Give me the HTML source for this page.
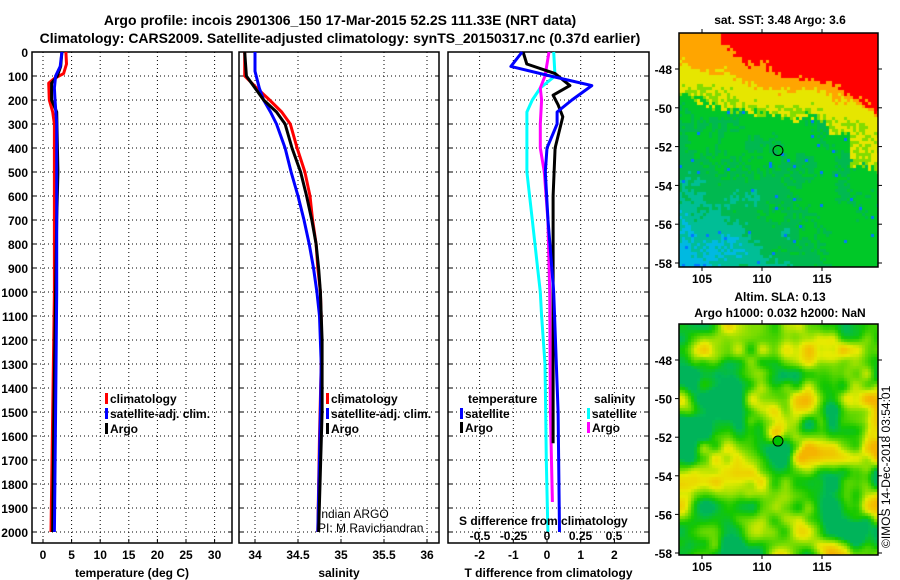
<!DOCTYPE html>
<html><head><meta charset="utf-8">
<style>
html,body{margin:0;padding:0;background:#fff;}
#wrap{position:relative;width:900px;height:580px;overflow:hidden;font-family:"Liberation Sans",sans-serif;}
svg text{font-family:"Liberation Sans",sans-serif;font-weight:bold;fill:#000;}
canvas{position:absolute;}
</style></head>
<body>
<div id="wrap">
<canvas id="sst" width="199" height="234" style="left:679px;top:33px;"></canvas>
<canvas id="sla" width="199" height="231" style="left:679px;top:324px;"></canvas>
<svg id="svg" width="900" height="580" style="position:absolute;left:0;top:0;"></svg>
</div>
<script>
// ---- data ----
const tClimDepth=[0,50,90,110,130,200,250,300,400,600,1000,1500,2000];
const tClimVal=[4.0,4.1,3.6,2.0,1.0,1.1,1.7,2.0,2.0,2.0,2.0,1.7,1.4];
const tSatDepth=[0,60,100,150,200,300,500,1000,1500,2000];
const tSatVal=[3.3,3.0,2.2,2.0,2.1,2.4,2.4,2.4,2.2,2.0];
const tArgoDepth=[0,60,100,130,200,250,500,700,1000,1500,2000];
const tArgoVal=[3.3,3.1,2.5,1.5,1.5,2.4,2.6,2.4,2.2,1.9,1.7];
const sClimDepth=[0,100,150,200,250,300,400,500,600,700,800,900,1000,1100,1300,1600,2000];
const sClimVal=[33.88,33.88,34.02,34.17,34.31,34.41,34.49,34.58,34.64,34.67,34.71,34.73,34.76,34.77,34.77,34.75,34.73];
const sSatDepth=[0,80,150,200,250,300,400,500,600,700,800,900,1000,1100,1300,1500,2000];
const sSatVal=[34.0,34.0,34.05,34.1,34.18,34.25,34.35,34.42,34.5,34.57,34.63,34.68,34.72,34.75,34.77,34.76,34.73];
const sArgoDepth=[0,100,150,200,250,300,400,500,600,700,800,900,1000,1200,1500,2000];
const sArgoVal=[33.88,33.9,34.0,34.1,34.25,34.35,34.43,34.53,34.6,34.66,34.71,34.74,34.76,34.78,34.78,34.74];
const dTSatDepth=[0,60,100,140,200,250,300,400,500,700,1000,1500,2000];
const dTSatVal=[-0.74,-1.07,0.1,1.33,0.74,0.3,0.3,0.0,-0.05,0.03,0.2,0.33,0.37];
const dTArgoDepth=[0,50,90,140,180,220,270,400,600,1000,1630];
const dTArgoVal=[-0.71,-0.6,0.24,0.68,0.18,0.33,0.47,0.24,0.18,0.18,0.18];
const dSArgoDepth=[0,100,150,200,300,400,500,700,1000,1500,1875];
const dSArgoVal=[0.015,-0.015,-0.05,-0.04,-0.05,-0.05,-0.02,0.007,0.02,0.025,0.04];
const dSSatDepth=[0,100,150,200,250,500,700,900,1000,1100,1300,1500,1700,2000];
const dSSatVal=[0.05,0.06,-0.05,-0.11,-0.15,-0.15,-0.11,-0.07,-0.05,-0.04,-0.015,-0.01,-0.005,0.007];
const depthTicks=[0,100,200,300,400,500,600,700,800,900,1000,1100,1200,1300,1400,1500,1600,1700,1800,1900,2000];
const tTicks=[0,5,10,15,20,25,30];
const sTicks=[34,34.5,35,35.5,36];
const sTickLabels=["34","34.5","35","35.5","36"];
const dTTicks=[-2,-1,0,1,2];
const dSTicks=[-0.5,-0.25,0,0.25,0.5];
const dSTickLabels=["-0.5","-0.25","0","0.25","0.5"];
const lonTicks=[105,110,115];
const latTicks=[-48,-50,-52,-54,-56,-58];
const argoLon=111.33, argoLat=-52.2;

// ---- axes ----
const Y=d=>52+d*0.24;
const xT=v=>43+v*5.72;
const xS=v=>255+(v-34)*86;
const xDT=v=>547+v*33.7;
const xDS=v=>547+v*134;
const mLon=v=>762+(v-110)*12;
const m1Lat=v=>69+(-48-v)*19.4;
const m2Lat=v=>360+(-48-v)*19.3;

const NS="http://www.w3.org/2000/svg";
const svg=document.getElementById('svg');
function mk(tag,at,parent){const e=document.createElementNS(NS,tag);for(const k in at)e.setAttribute(k,at[k]);(parent||svg).appendChild(e);return e;}
function txt(x,y,s,size,anchor,name){const t=mk('text',{x:x,y:y,'font-size':size,'text-anchor':anchor||'start'});t.textContent=s;


return t;}

txt(340,25,"Argo profile: incois 2901306_150 17-Mar-2015 52.2S 111.33E (NRT data)",14,'middle','title-line-1');
txt(340,43,"Climatology: CARS2009. Satellite-adjusted climatology: synTS_20150317.nc (0.37d earlier)",14,'middle','title-line-2');

const panels=[
 {x0:32,x1:232,ticks:tTicks,labels:tTicks.map(String),fx:xT,name:'temperature-panel',xl:'temperature (deg C)'},
 {x0:239,x1:439,ticks:sTicks,labels:sTickLabels,fx:xS,name:'salinity-panel',xl:'salinity'},
 {x0:448,x1:649,ticks:dTTicks,labels:dTTicks.map(String),fx:xDT,name:'difference-panel',xl:'T difference from climatology'}
];
const yBot=543;
panels.forEach((p,i)=>{
 const g=mk('g',{});
 
 
 depthTicks.forEach(d=>{ if(d>0) mk('line',{x1:p.x0,x2:p.x1,y1:Y(d),y2:Y(d),stroke:'#000','stroke-width':1,'stroke-dasharray':'1,3'},g);
   mk('line',{x1:p.x0,x2:p.x0+4,y1:Y(d),y2:Y(d),stroke:'#000'},g);
   mk('line',{x1:p.x1-4,x2:p.x1,y1:Y(d),y2:Y(d),stroke:'#000'},g);});
 p.ticks.forEach((t,j)=>{const x=p.fx(t);
   mk('line',{x1:x,x2:x,y1:52,y2:yBot,stroke:'#000','stroke-dasharray':'1,3'},g);
   mk('line',{x1:x,x2:x,y1:yBot-4,y2:yBot,stroke:'#000'},g);
   txt(x,559,p.labels[j],12,'middle','x-tick-label');});
 mk('rect',{x:p.x0,y:52,width:p.x1-p.x0,height:yBot-52,fill:'none',stroke:'#000','stroke-width':1.5},g);
 txt((p.x0+p.x1)/2,577,p.xl,12,'middle','x-axis-title');
});
depthTicks.forEach(d=>txt(28,Y(d)+5,String(d),12,'end','depth-tick-label'));

function line(depths,vals,fx,color,name){
 const pts=depths.map((d,i)=>fx(vals[i]).toFixed(1)+','+Y(d).toFixed(1)).join(' ');
 const l=mk('polyline',{points:pts,fill:'none',stroke:color,'stroke-width':3,'stroke-linejoin':'round'});
 
 
}
line(tClimDepth,tClimVal,xT,'#ff0000','temp-climatology-line');
line(tArgoDepth,tArgoVal,xT,'#000000','temp-argo-line');
line(tSatDepth,tSatVal,xT,'#0000ff','temp-satellite-line');
line(sClimDepth,sClimVal,xS,'#ff0000','sal-climatology-line');
line(sSatDepth,sSatVal,xS,'#0000ff','sal-satellite-line');
line(sArgoDepth,sArgoVal,xS,'#000000','sal-argo-line');
line(dSSatDepth,dSSatVal,xDS,'#00ffff','dsal-satellite-line');
line(dSArgoDepth,dSArgoVal,xDS,'#ff00ff','dsal-argo-line');
line(dTArgoDepth,dTArgoVal,xDT,'#000000','dtemp-argo-line');
line(dTSatDepth,dTSatVal,xDT,'#0000ff','dtemp-satellite-line');

txt(459,525,"S difference from climatology",12,'start','s-axis-title');
dSTicks.forEach((t,j)=>txt(xDS(t),540,dSTickLabels[j],12,'middle','s-tick-label'));

function legend(x,y,color,label,name){
 const r=mk('rect',{x:x,y:y-10,width:3,height:11,fill:color});
 
 
 txt(x+5,y,label,12,'start',name);
}
[[105,'climatology','#ff0000'],[105,'satellite-adj. clim.','#0000ff'],[105,'Argo','#000']].forEach((a,i)=>legend(a[0],403+i*15,a[2],a[1],'temp-legend-entry'));
[[326,'climatology','#ff0000'],[326,'satellite-adj. clim.','#0000ff'],[326,'Argo','#000']].forEach((a,i)=>legend(a[0],403+i*15,a[2],a[1],'sal-legend-entry'));
txt(468,403,"temperature",12,'start','legend-temperature-header');
legend(460,418,'#0000ff','satellite','dtemp-legend-entry');
legend(460,432,'#000','Argo','dtemp-legend-entry');
txt(594,403,"salinity",12,'start','legend-salinity-header');
legend(587,418,'#00ffff','satellite','dsal-legend-entry');
legend(587,432,'#ff00ff','Argo','dsal-legend-entry');
const c1=mk('text',{x:318,y:518,'font-size':12});c1.textContent="Indian ARGO";c1.style.fontWeight='normal';

const c2=mk('text',{x:318,y:532,'font-size':12});c2.textContent="PI: M Ravichandran";c2.style.fontWeight='normal';


txt(780,24,"sat. SST: 3.48 Argo: 3.6",12,'middle','sst-map-title');
txt(780,301,"Altim. SLA: 0.13",12,'middle','sla-map-title');
txt(780,317,"Argo h1000: 0.032 h2000: NaN",12,'middle','sla-argo-title');
function mapAxes(top,bot,fLat,name){
 const g=mk('g',{});
 
 
 mk('rect',{x:679,y:top,width:199,height:bot-top,fill:'none',stroke:'#000','stroke-width':1.5},g);
 latTicks.forEach(l=>{const y=fLat(l);mk('line',{x1:675,x2:679,y1:y,y2:y,stroke:'#000'},g);mk('line',{x1:878,x2:882,y1:y,y2:y,stroke:'#000'},g);
   txt(672,y+5,String(l),12,'end','lat-tick-label');});
 lonTicks.forEach(l=>{const x=mLon(l);mk('line',{x1:x,x2:x,y1:bot,y2:bot+4,stroke:'#000'},g);mk('line',{x1:x,x2:x,y1:top-4,y2:top,stroke:'#000'},g);
   txt(x,bot+16,String(l),12,'middle','lon-tick-label');});
}
mapAxes(33,267,m1Lat,'sst-map-axes');
mapAxes(324,555,m2Lat,'sla-map-axes');
const m1=mk('circle',{cx:mLon(argoLon),cy:m1Lat(argoLat),r:5,fill:'none',stroke:'#000','stroke-width':1});

const m2=mk('circle',{cx:mLon(argoLon),cy:m2Lat(argoLat),r:5,fill:'#00c000',stroke:'#000','stroke-width':1});

const cr=mk('text',{x:0,y:0,'font-size':12,transform:'translate(890,548) rotate(-90)'});cr.textContent="©IMOS 14-Dec-2018 03:54:01";cr.style.fontWeight='normal';


// ---- map rasters (texture) ----
let seed=12345;function rnd(){seed=(seed*1103515245+12345)&0x7fffffff;return seed/0x7fffffff;}
function grid(n,m){const a=[];for(let i=0;i<n*m;i++)a.push(rnd());return a;}
function smooth(a,n,m,x,y){const i=Math.floor(x),j=Math.floor(y),fx=x-i,fy=y-j;
 const g=(ii,jj)=>a[Math.min(m-1,Math.max(0,jj))*n+Math.min(n-1,Math.max(0,ii))];
 const sx=fx*fx*(3-2*fx),sy=fy*fy*(3-2*fy);
 return (g(i,j)*(1-sx)+g(i+1,j)*sx)*(1-sy)+(g(i,j+1)*(1-sx)+g(i+1,j+1)*sx)*sy;}
(function(){
 const ctx=document.getElementById('sst').getContext('2d');
 const a=grid(10,10),b=grid(12,14);
 const cs=[[0,120,255],[0,185,225],[0,190,150],[0,185,80],[0,200,40],[130,220,0],[230,230,0],[255,165,0],[255,0,0]];
 for(let y=0;y<234;y+=3)for(let x=0;x<199;x+=3){
  const u=x/199,v=y/234;
  const wob=(smooth(a,10,10,u*9,v*9)-0.5)*0.08+(rnd()-0.5)*0.04;
  const vv=v+wob;
  const redE=u<0.2?-1:0.06+0.26*(u-0.2)/0.8;
  const orE=0.13+0.2*u;
  const yeE=orE+0.07;
  const liE=u>0.85?0.55:yeE+0.05;
  let k;
  if(vv<redE)k=8;
  else if(vv<orE)k=7;
  else if(vv<yeE)k=6;
  else if(vv<liE)k=(rnd()<0.5?5:6);
  else{
   const ed=Math.max(0,(v-0.45)/0.55)*Math.max(0,1-u*1.3);
   let f=3.8-3.4*ed+(smooth(b,12,14,u*11,v*13)-0.5)*1.4+(rnd()-0.5)*0.8;
   if(v>0.8&&u>0.55)f+=0.2;
   k=Math.max(0,Math.min(4,Math.round(f)));
   if(rnd()<0.01)k=0;
  }
  const c=cs[k];ctx.fillStyle='rgb('+c+')';ctx.fillRect(x,y,3,3);}
})();
(function(){
 const ctx=document.getElementById('sla').getContext('2d');
 const N=9,M=10,a=grid(N,M),b=grid(18,20);
 for(let y=0;y<231;y+=3)for(let x=0;x<199;x+=3){
  const f=0.75*smooth(a,N,M,x/199*(N-1),y/231*(M-1))+0.25*smooth(b,18,20,x/199*17,y/231*19);
  let c;
  if(f<0.3)c=[0,180,90];
  else if(f<0.42){const t=(f-0.3)/0.12;c=[20*t,185+15*t,90-90*t];}
  else if(f<0.55){const t=(f-0.42)/0.13;c=[20+100*t,200+20*t,0];}
  else if(f<0.68){const t=(f-0.55)/0.13;c=[120+110*t,220+15*t,0];}
  else {const t=Math.min(1,(f-0.68)/0.18);c=[230+15*t,235-55*t,0];}
  ctx.fillStyle='rgb('+c.map(Math.round)+')';ctx.fillRect(x,y,3,3);}
})();
</script>
</body></html>
